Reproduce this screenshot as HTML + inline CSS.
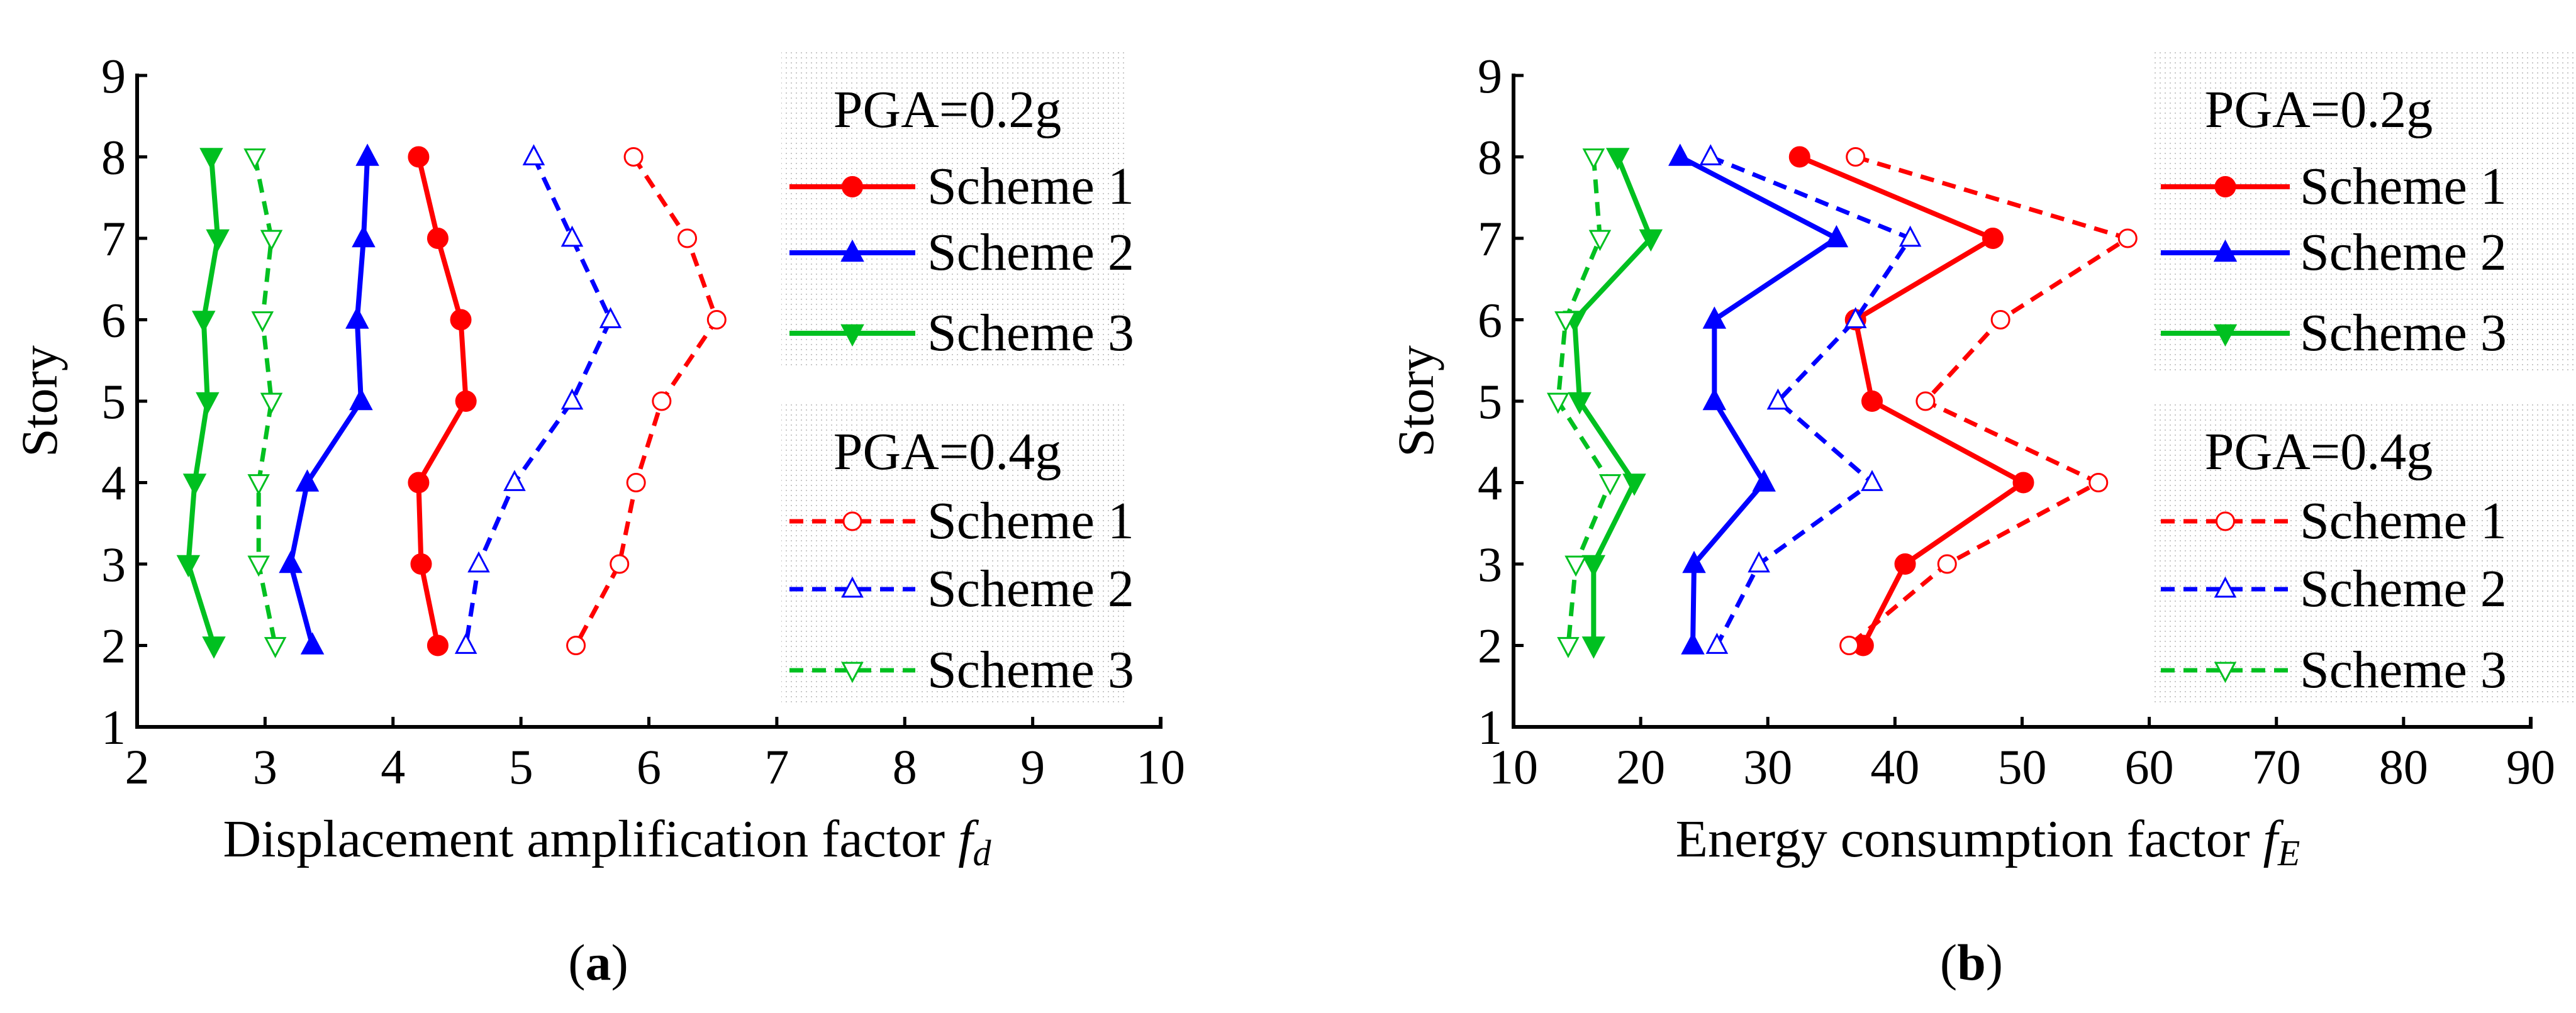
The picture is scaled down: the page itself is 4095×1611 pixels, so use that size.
<!DOCTYPE html>
<html><head><meta charset="utf-8"><style>
html,body{margin:0;padding:0;background:#fff}
svg{display:block}
svg text{font-family:"Liberation Serif","DejaVu Serif",serif}
</style></head><body>
<svg id="fig" width="4095" height="1611" viewBox="0 0 4095 1611" font-family="Liberation Serif, serif" xmlns="http://www.w3.org/2000/svg">
<defs>
<pattern id="dots" width="8" height="8" patternUnits="userSpaceOnUse"><rect width="8" height="8" fill="#fff"/><rect x="1" y="3" width="2" height="2" fill="#c8c8c8"/></pattern>
</defs>
</svg>
<script>
const stories=[8,7,6,5,4,3,2];
const aS1_02=[4.2,4.35,4.53,4.57,4.2,4.22,4.35];
const aS2_02=[3.8,3.77,3.72,3.75,3.33,3.2,3.37];
const aS3_02=[2.58,2.63,2.52,2.55,2.45,2.4,2.6];
const aS1_04=[5.88,6.3,6.53,6.1,5.9,5.77,5.43];
const aS2_04=[5.1,5.4,5.7,5.4,4.95,4.67,4.57];
const aS3_04=[2.92,3.05,2.98,3.05,2.95,2.95,3.08];
const bS1_02=[32.5,47.7,36.9,38.2,50.1,40.8,37.5];
const bS2_02=[23.1,35.4,25.8,25.8,29.7,24.2,24.1];
const bS3_02=[18.2,20.8,14.8,15.2,19.5,16.3,16.3];
const bS1_04=[36.9,58.3,48.3,42.4,56.0,44.1,36.4];
const bS2_04=[25.5,41.2,36.9,30.8,38.2,29.3,26.0];
const bS3_04=[16.3,16.8,14.1,13.5,17.6,14.9,14.3];
const yTicks=[1,2,3,4,5,6,7,8,9];
const aXTicks=[2,3,4,5,6,7,8,9,10];
const bXTicks=[10,20,30,40,50,60,70,80,90];

const NS="http://www.w3.org/2000/svg";
const svg=document.getElementById('fig');
function el(tag,attrs,parent){const e=document.createElementNS(NS,tag);for(const k in attrs)e.setAttribute(k,attrs[k]);(parent||svg).appendChild(e);return e;}
const RED='#ff0000',BLUE='#0000ff',GREEN='#00c020';
const FF='Liberation Serif, serif';

function marker(g,type,x,y,color,filled){
  let m;
  if(type==='circle'){m=el('circle',{cx:x,cy:y,r:filled?16:14,fill:filled?color:'#fff','stroke':color,'stroke-width':filled?2:3},g);}
  else{const s=filled?19:17;const d=type==='up'?
    `M${x},${y-s} L${x+s*0.9},${y+s*0.7} L${x-s*0.9},${y+s*0.7}Z`:
    `M${x},${y+s} L${x+s*0.9},${y-s*0.7} L${x-s*0.9},${y-s*0.7}Z`;
    m=el('path',{d:d,fill:filled?color:'#fff',stroke:color,'stroke-width':filled?2:3},g);}
  return m;
}

function panel(cfg){
  const {x0,x1,y0,y1,xmin,xmax,xTicks,series,prefix}=cfg;
  const X=v=>x0+(v-xmin)/(xmax-xmin)*(x1-x0);
  const Y=v=>y1+(v-1)/(9-1)*(y0-y1);
  const g=el('g',{});
  
  
  const lb=cfg.legend;
  const box1=el('rect',{x:lb.x0,y:79,width:lb.x1-lb.x0,height:lb.h1,fill:'url(#dots)'},g);
  
  
  const box2=el('rect',{x:lb.x0,y:637,width:lb.x1-lb.x0,height:486,fill:'url(#dots)'},g);
  
  
  series.forEach(s=>{
    const sg=el('g',{},g);
    
    
    const pts=s.vals.map((v,i)=>X(v)+','+Y(stories[i])).join(' ');
    const pl=el('polyline',{points:pts,fill:'none',stroke:s.color,'stroke-width':s.filled?8:7,'stroke-dasharray':s.filled?'none':'22 14','stroke-linejoin':'round'},sg);
    
    
    s.vals.forEach((v,i)=>{
      const m=marker(sg,s.type,X(v),Y(stories[i]),s.color,s.filled);
      
      
    });
  });
  const ax=el('path',{d:`M${x0},${y0-3} L${x0},${y1} L${x1},${y1} L${x1},${y1-16}`,fill:'none',stroke:'#000','stroke-width':6},g);
  
  
  xTicks.forEach(t=>{
    const tk=el('line',{x1:X(t),x2:X(t),y1:y1,y2:y1-16,stroke:'#000','stroke-width':5},g);
    
    
    const tl=el('text',{x:X(t),y:y1+90,'font-size':78,'text-anchor':'middle','font-family':FF},g);
    tl.textContent=t;
    
    
  });
  yTicks.forEach(t=>{
    const tk=el('line',{x1:x0,x2:x0+16,y1:Y(t),y2:Y(t),stroke:'#000','stroke-width':5},g);
    
    
    const tl=el('text',{x:x0-18,y:Y(t)+27,'font-size':78,'text-anchor':'end','font-family':FF},g);
    tl.textContent=t;
    
    
  });
  const yt=el('text',{x:0,y:0,'font-size':82,'text-anchor':'middle','font-family':FF,transform:`translate(${x0-128},${(y0+y1)/2}) rotate(-90)`},g);
  yt.textContent='Story';
  
  
  const xt=el('text',{x:cfg.xtx,y:1362,'font-size':84,'text-anchor':'middle','font-family':FF},g);
  xt.innerHTML=cfg.xtitle+' <tspan font-style="italic">f</tspan><tspan font-style="italic" font-size="58" dy="14">'+cfg.sub+'</tspan>';
  
  
  const cap=el('text',{x:cfg.capx,y:1558,'font-size':82,'text-anchor':'middle','font-family':FF},g);
  cap.innerHTML='(<tspan font-weight="bold">'+cfg.cap+'</tspan>)';
  
  
  const hd1=el('text',{x:lb.hx,y:202,'font-size':84,'text-anchor':'middle','font-family':FF},g);
  hd1.textContent='PGA=0.2g';
  
  
  const hd2=el('text',{x:lb.hx,y:746,'font-size':84,'text-anchor':'middle','font-family':FF},g);
  hd2.textContent='PGA=0.4g';
  
  
  const ly=[297,402,530,829,937,1066];
  series.forEach((s,i)=>{
    const y=ly[i];
    const lg=el('g',{},g);
    
    
    el('line',{x1:lb.lx0,x2:lb.lx1,y1:y,y2:y,stroke:s.color,'stroke-width':s.filled?8:7,'stroke-dasharray':s.filled?'none':'22 14'},lg);
    marker(lg,s.type,(lb.lx0+lb.lx1)/2,y,s.color,s.filled);
    const t=el('text',{x:lb.tx,y:y+27,'font-size':84,'font-family':FF},lg);
    t.textContent='Scheme '+((i%3)+1);
  });
}
function mk(prefix,vals){
  return [
    {name:prefix+'-scheme1-pga02',vals:vals[0],color:RED,type:'circle',filled:true},
    {name:prefix+'-scheme2-pga02',vals:vals[1],color:BLUE,type:'up',filled:true},
    {name:prefix+'-scheme3-pga02',vals:vals[2],color:GREEN,type:'down',filled:true},
    {name:prefix+'-scheme1-pga04',vals:vals[3],color:RED,type:'circle',filled:false},
    {name:prefix+'-scheme2-pga04',vals:vals[4],color:BLUE,type:'up',filled:false},
    {name:prefix+'-scheme3-pga04',vals:vals[5],color:GREEN,type:'down',filled:false}];
}
panel({prefix:'a',x0:218,x1:1845,y0:120,y1:1156,xmin:2,xmax:10,xTicks:aXTicks,
  series:mk('a',[aS1_02,aS2_02,aS3_02,aS1_04,aS2_04,aS3_04]),
  legend:{x0:1242,x1:1793,h1:506,hx:1506,lx0:1255,lx1:1455,tx:1474},
  xtitle:'Displacement amplification factor',sub:'d',xtx:965,cap:'a',capx:951});
panel({prefix:'b',x0:2406,x1:4023,y0:120,y1:1156,xmin:10,xmax:90,xTicks:bXTicks,
  series:mk('b',[bS1_02,bS2_02,bS3_02,bS1_04,bS2_04,bS3_04]),
  legend:{x0:3422,x1:4092,h1:513,hx:3686,lx0:3435,lx1:3640,tx:3656},
  xtitle:'Energy consumption factor',sub:'E',xtx:3160,cap:'b',capx:3134});
</script>
</body></html>
